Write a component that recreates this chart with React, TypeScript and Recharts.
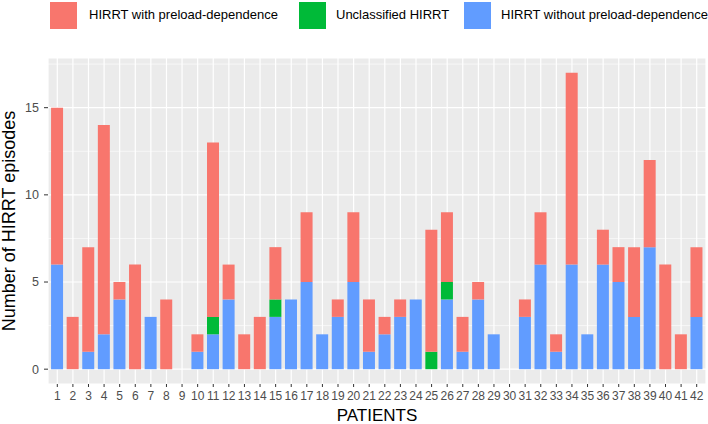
import React from "react";
import { BarChart, Bar, XAxis, YAxis, CartesianGrid, Label } from "recharts";

const patients = ["1","2","3","4","5","6","7","8","9","10","11","12","13","14","15","16","17","18","19","20","21","22","23","24","25","26","27","28","29","30","31","32","33","34","35","36","37","38","39","40","41","42"];
const withoutPreload = [6,0,1,2,4,0,3,0,0,1,2,4,0,0,3,4,5,2,3,5,1,2,3,4,0,4,1,4,2,0,3,6,1,6,2,6,5,3,7,0,0,3];
const unclassified = [0,0,0,0,0,0,0,0,0,0,1,0,0,0,1,0,0,0,0,0,0,0,0,0,1,1,0,0,0,0,0,0,0,0,0,0,0,0,0,0,0,0];
const withPreload = [9,3,6,12,1,6,0,4,0,1,10,2,2,3,3,0,4,0,1,4,3,1,1,0,7,4,2,1,0,0,1,3,1,11,0,2,2,4,5,6,2,4];
const yTicks = [0, 5, 10, 15];
const yMinor = [2.5, 7.5, 12.5, 17.5];

const series = [
  { key: "with", label: "HIRRT with preload-dependence", color: "#F8766D" },
  { key: "uncl", label: "Unclassified HIRRT", color: "#00BA38" },
  { key: "without", label: "HIRRT without preload-dependence", color: "#619CFF" },
];
const legendPos = [
  { sq: 50, tx: 89 },
  { sq: 299, tx: 336 },
  { sq: 464, tx: 501 },
];

const data = patients.map((p, i) => ({
  patient: p,
  without: withoutPreload[i],
  uncl: unclassified[i],
  with: withPreload[i],
}));

const FONT = "'Liberation Sans', Arial, sans-serif";

export default function App() {
  return (
    <div style={{ position: "absolute", left: 0, top: 0, width: 708, height: 424, background: "#fff", fontFamily: FONT }}>
      {series.map((s, i) => (
        <div key={s.key}>
          <div style={{ position: "absolute", left: legendPos[i].sq, top: 2, width: 27, height: 27, background: s.color }} />
          <div style={{ position: "absolute", left: legendPos[i].tx, top: 7, fontSize: 13, lineHeight: "16px", color: "#000", whiteSpace: "nowrap" }}>{s.label}</div>
        </div>
      ))}
      <BarChart
        width={708}
        height={424}
        data={data}
        margin={{ top: 58, right: 2, bottom: 0, left: 8 }}
        barCategoryGap="10%"
      >
        <CartesianGrid fill="#EBEBEB" fillOpacity={1} stroke="#FFFFFF" strokeWidth={1.2} />
        <CartesianGrid vertical={false} horizontalValues={yMinor} stroke="#FFFFFF" strokeWidth={0.6} />
        <XAxis
          dataKey="patient"
          interval={0}
          height={40}
          padding={{ left: 1.5, right: 1.5 }}
          axisLine={false}
          tickLine={{ stroke: "#333333" }}
          tickSize={3}
          tickMargin={4}
          tick={{ fill: "#4D4D4D", fontSize: 12, fontFamily: FONT }}
        >
          <Label
            content={({ viewBox }: any) => (
              <text x={viewBox.x + viewBox.width / 2} y={421} textAnchor="middle" fontSize={17} fontFamily={FONT} fill="#000">
                PATIENTS
              </text>
            )}
          />
        </XAxis>
        <YAxis
          width={40}
          domain={[-0.85, 17.85]}
          allowDataOverflow
          ticks={yTicks}
          axisLine={false}
          tickLine={{ stroke: "#333333" }}
          tickSize={4}
          tickMargin={5}
          tick={{ fill: "#4D4D4D", fontSize: 12.5, fontFamily: FONT }}
        >
          <Label
            content={({ viewBox }: any) => {
              const cy = viewBox.y + viewBox.height / 2;
              return (
                <text x={15} y={cy} transform={`rotate(-90, 15, ${cy})`} textAnchor="middle" fontSize={18} fontFamily={FONT} fill="#000">
                  Number of HIRRT episodes
                </text>
              );
            }}
          />
        </YAxis>
        <Bar dataKey="without" stackId="a" fill="#619CFF" isAnimationActive={false} />
        <Bar dataKey="uncl" stackId="a" fill="#00BA38" isAnimationActive={false} />
        <Bar dataKey="with" stackId="a" fill="#F8766D" isAnimationActive={false} />
      </BarChart>
    </div>
  );
}
